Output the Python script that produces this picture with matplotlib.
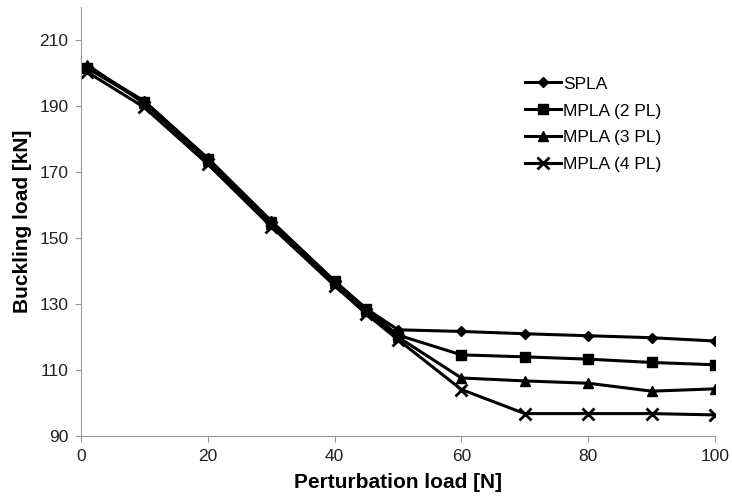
import matplotlib
matplotlib.use("Agg")
import matplotlib.pyplot as plt

plt.rcParams["font.family"] = ["Liberation Sans", "DejaVu Sans"]

# Datos
carga = [1, 10, 20, 30, 40, 45, 50, 60, 70, 80, 90, 100]
spla = [202.0, 191.5, 174.2, 155.2, 137.0, 128.6, 122.2, 121.7, 121.0, 120.4, 119.8, 118.8]
mpla_2 = [201.5, 191.3, 174.0, 155.0, 136.9, 128.4, 120.6, 114.6, 114.0, 113.3, 112.3, 111.6]
mpla_3 = [202.5, 190.8, 173.5, 154.4, 136.4, 127.8, 120.0, 107.6, 106.7, 106.0, 103.6, 104.3]
mpla_4 = [200.3, 189.6, 172.4, 153.5, 135.6, 127.0, 119.2, 104.1, 96.8, 96.8, 96.8, 96.4]

series = [
    ("SPLA", spla, "D", 5),
    ("MPLA (2 PL)", mpla_2, "s", 7),
    ("MPLA (3 PL)", mpla_3, "^", 7),
    ("MPLA (4 PL)", mpla_4, "x", 8),
]

fig = plt.figure(figsize=(7.32, 5.01), dpi=100)
ax = fig.add_axes([0.1107, 0.1297, 0.866, 0.856])

for nombre, valores, marcador, tam in series:
    ax.plot(carga, valores, color="black", linewidth=2.2, marker=marcador,
            markersize=tam, markeredgewidth=2 if marcador == "x" else 1,
            label=nombre)

ax.set_xlim(0, 100)
ax.set_ylim(90, 220)
ax.set_xticks(range(0, 101, 20))
ax.set_yticks(range(90, 211, 20))
ax.tick_params(labelsize=12.5, colors="#222222", length=4, direction="out", pad=5)
for lado in ["top", "right"]:
    ax.spines[lado].set_visible(False)
for lado in ["left", "bottom"]:
    ax.spines[lado].set_color("#999999")
ax.tick_params(axis="both", color="#999999")

ax.set_xlabel("Perturbation load [N]", fontsize=15, fontweight="bold", labelpad=7)
ax.set_ylabel("Buckling load [kN]", fontsize=15, fontweight="bold", labelpad=5)

ax.legend(loc="upper left", bbox_to_anchor=(0.675, 0.875), frameon=False,
          fontsize=12.5, handlelength=2.1, handletextpad=0.1, labelspacing=0.68)

plt.savefig("out.png", dpi=100)
